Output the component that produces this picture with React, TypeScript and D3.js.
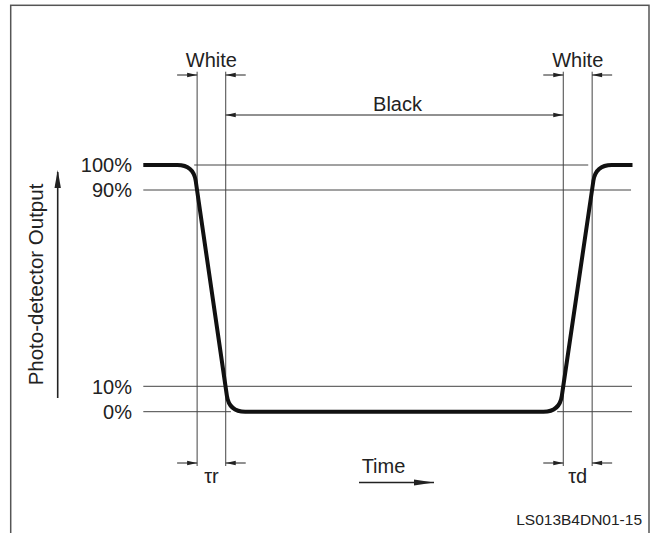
import * as d3 from 'd3';

// Output levels (percent) and their tick labels
const levels = [0, 10, 90, 100];
const levelLabels = ['0%', '10%', '90%', '100%'];

// Waveform corners: time (arbitrary units 0..100) vs output level (%)
const waveTimes = [0, 10.24, 17.56, 85.08, 92.48, 100];
const waveLevels = [100, 100, 0, 0, 100, 100];

// Vertical marker lines (10% / 90% crossings)
const markerTimes = [11.0, 16.85, 85.85, 91.75];

// Thin reference lines: level, start time, end time
const refLevels = [100, 90, 10, 0, 0];
const refStarts = [10.4, 0, 0, 0, 84.6];
const refEnds = [90.95, 99.7, 99.9, 17.9, 99.9];

const W = 652;
const H = 533;
const FONT = '"Liberation Sans", Arial, Helvetica, sans-serif';
const INK = '#222';
const THIN = '#444';

function arrowHead(x: number, y: number, dir: 'l' | 'r' | 'u', len = 10, half = 2.2) {
  if (dir === 'r') return `M${x},${y}L${x - len},${y - half}L${x - len},${y + half}Z`;
  if (dir === 'l') return `M${x},${y}L${x + len},${y - half}L${x + len},${y + half}Z`;
  return `M${x},${y}L${x - half},${y + len}L${x + half},${y + len}Z`;
}

export default function App() {
  const x = d3.scaleLinear().domain([0, 100]).range([143.3, 632.5]);
  const y = d3.scaleLinear().domain(levels).range([411.7, 386.3, 190, 165]);

  // rounded-corner waveform path built from scaled points
  const pts = waveTimes.map((t, i) => [x(t), y(waveLevels[i])] as [number, number]);
  const r = 16;
  const p = d3.path();
  p.moveTo(pts[0][0], pts[0][1]);
  for (let i = 1; i < pts.length - 1; i++) {
    const [px, py] = pts[i - 1];
    const [cx, cy] = pts[i];
    const [nx, ny] = pts[i + 1];
    const d1 = Math.hypot(cx - px, cy - py);
    const d2 = Math.hypot(nx - cx, ny - cy);
    const a = [cx - ((cx - px) / d1) * r, cy - ((cy - py) / d1) * r];
    const b = [cx + ((nx - cx) / d2) * r, cy + ((ny - cy) / d2) * r];
    p.lineTo(a[0], a[1]);
    p.quadraticCurveTo(cx, cy, b[0], b[1]);
  }
  p.lineTo(pts[pts.length - 1][0], pts[pts.length - 1][1]);

  const mx = markerTimes.map((t) => x(t));
  const topY = 71.7;
  const botY = 466;
  const whiteY = 75;
  const blackY = 115;
  const tauY = 463;
  const aLen = 20;

  const sideArrows = (yy: number) => (
    <g>
      {[0, 2].map((k) => (
        <g key={k}>
          <line x1={mx[k] - aLen} x2={mx[k]} y1={yy} y2={yy} stroke={INK} strokeWidth={1} />
          <path d={arrowHead(mx[k], yy, 'r')} fill={INK} />
          <line x1={mx[k + 1] + aLen} x2={mx[k + 1]} y1={yy} y2={yy} stroke={INK} strokeWidth={1} />
          <path d={arrowHead(mx[k + 1], yy, 'l')} fill={INK} />
        </g>
      ))}
    </g>
  );

  return (
    <svg
      width={W}
      height={H}
      style={{ position: 'absolute', left: 0, top: 0, background: '#fff' }}
      fontFamily={FONT}
    >
      <rect x={10.7} y={5.3} width={638.3} height={600} fill="none" stroke="#555" strokeWidth={1.5} />

      {/* reference level lines */}
      {refLevels.map((lv, i) => (
        <line
          key={i}
          x1={x(refStarts[i])}
          x2={x(refEnds[i])}
          y1={y(lv)}
          y2={y(lv)}
          stroke={THIN}
          strokeWidth={1}
        />
      ))}

      {/* vertical markers */}
      {mx.map((v, i) => (
        <line key={i} x1={v} x2={v} y1={topY} y2={botY} stroke={THIN} strokeWidth={1} />
      ))}

      {/* waveform */}
      <path d={p.toString()} fill="none" stroke="#111" strokeWidth={4} strokeLinejoin="round" />

      {/* level labels */}
      {levels.map((lv, i) => (
        <text key={lv} x={132} y={y(lv)} dy="0.36em" textAnchor="end" fontSize={20} fill={INK}>
          {levelLabels[i]}
        </text>
      ))}

      {/* White / Black annotations */}
      {sideArrows(whiteY)}
      <text x={(mx[0] + mx[1]) / 2} y={67} textAnchor="middle" fontSize={20} fill={INK}>White</text>
      <text x={(mx[2] + mx[3]) / 2} y={67} textAnchor="middle" fontSize={20} fill={INK}>White</text>

      <line x1={mx[1]} x2={mx[2]} y1={blackY} y2={blackY} stroke={INK} strokeWidth={1} />
      <path d={arrowHead(mx[1], blackY, 'l')} fill={INK} />
      <path d={arrowHead(mx[2], blackY, 'r')} fill={INK} />
      <text x={(mx[1] + mx[2]) / 2 + 3} y={110.7} textAnchor="middle" fontSize={20} fill={INK}>Black</text>

      {/* tau annotations */}
      {sideArrows(tauY)}
      <text x={(mx[0] + mx[1]) / 2} y={483} textAnchor="middle" fontSize={20} fill={INK}>τr</text>
      <text x={(mx[2] + mx[3]) / 2} y={483} textAnchor="middle" fontSize={20} fill={INK}>τd</text>

      {/* Time axis arrow */}
      <text x={383.5} y={473} textAnchor="middle" fontSize={20} fill={INK}>Time</text>
      <line x1={359} x2={434} y1={482.5} y2={482.5} stroke={INK} strokeWidth={1.6} />
      <path d={arrowHead(434, 482.5, 'r', 20, 3)} fill={INK} />

      {/* Output axis arrow */}
      <line x1={57.7} x2={57.7} y1={398} y2={172} stroke={INK} strokeWidth={1.6} />
      <path d={arrowHead(57.7, 170, 'u', 18, 3.2)} fill={INK} />
      <text
        transform={`translate(43.3,284.5) rotate(-90)`}
        textAnchor="middle"
        fontSize={20.5}
        fill={INK}
      >
        Photo-detector Output
      </text>

      <text x={642} y={525} textAnchor="end" fontSize={15.5} fill={INK}>LS013B4DN01-15</text>
    </svg>
  );
}
